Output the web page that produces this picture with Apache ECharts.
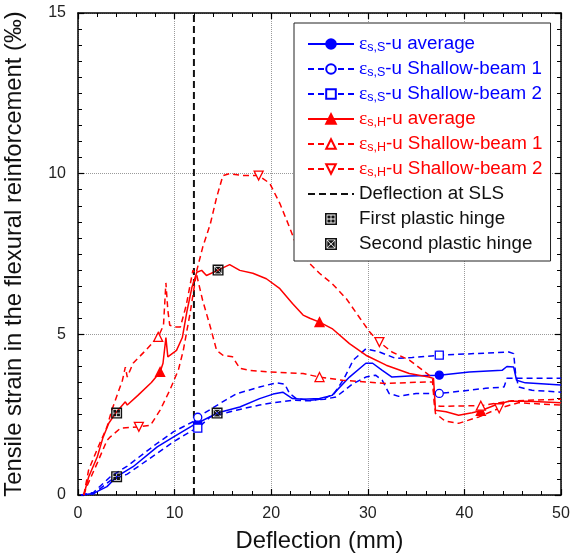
<!DOCTYPE html>
<html>
<head>
<meta charset="utf-8">
<script src="https://cdn.jsdelivr.net/npm/echarts@6/dist/echarts.min.js"></script>
<style>html,body{margin:0;padding:0;background:#fff}#c{width:573px;height:556px}</style>
</head>
<body>
<div id="c"></div>
<script>
// ---- data ----
const xRange = [0, 50, 10];
const yRange = [0, 15, 5];
const slsX = 12;

const blueAvg = [[0.3,0],[1.6,0.05],[3,0.26],[4,0.57],[5.7,0.88],[8.2,1.5],[9.9,1.81],[11.9,2.17],[12.4,2.24],[14.4,2.55],[16.75,2.74],[18.8,3.0],[20.2,3.14],[21.2,3.2],[22.2,3.0],[23.3,2.98],[25,3.0],[26.3,3.1],[28.1,3.67],[29.8,4.1],[30.5,4.1],[31.5,3.88],[32.5,3.67],[34.3,3.7],[37.4,3.73],[40.5,3.83],[43.9,3.88],[44.4,4.0],[45.1,3.98],[45.4,3.57],[46.3,3.49],[50,3.42]];
const blueAvgMarks = [12.4, 37.4];

const blueSB1 = [[0.3,0],[1.6,0.08],[3.35,0.57],[5.1,0.9],[8.2,1.61],[9.9,1.97],[11.9,2.28],[12.4,2.42],[14.7,2.85],[16.4,3.15],[18.8,3.36],[20.5,3.49],[21.4,3.45],[21.9,3.16],[22.6,3.0],[24,2.95],[25.5,2.98],[26.7,3.05],[28.4,3.45],[29.8,3.67],[30.8,3.73],[31.5,3.57],[32.2,3.16],[33.2,3.07],[35,3.16],[37.4,3.16],[38.7,3.2],[42.2,3.32],[44.1,3.36],[44.4,3.63],[45.6,3.63],[50,3.63]];
const blueSB1Marks = [12.4, 37.4];

const blueSB2 = [[0.3,0],[1.6,0.03],[3.35,0.45],[5.1,0.65],[8.2,1.3],[9.9,1.66],[11.9,2.02],[12.4,2.08],[13.7,2.43],[16.4,2.64],[18.8,2.8],[20.2,2.87],[22.2,2.95],[24,2.93],[25.5,3.0],[26.5,3.15],[27.5,3.6],[28.5,4.2],[29.8,4.55],[31.2,4.45],[32.9,4.25],[34.6,4.28],[37.4,4.35],[44.6,4.45],[45.1,4.4],[45.3,3.78],[45.6,3.36],[47,3.26],[50,3.2]];
const blueSB2Marks = [12.4, 37.4];

const redAvg = [[0.6,0],[1.1,0.56],[2.0,1.19],[2.6,1.8],[3.2,2.24],[3.9,2.55],[4.9,2.9],[5.1,2.8],[6.2,3.1],[7.6,3.5],[8.5,3.83],[8.8,4.1],[9.1,4.9],[9.3,4.3],[10.2,4.5],[10.8,4.9],[11.3,5.75],[11.8,6.47],[12.3,6.93],[12.8,6.99],[13.3,6.83],[14.5,7.0],[15.7,7.17],[16.75,6.99],[18.1,6.9],[19.5,6.73],[20.9,6.42],[22.2,5.96],[23.3,5.6],[24,5.5],[25,5.38],[26.3,5.18],[28.1,4.71],[29.8,4.35],[31.9,4.04],[34.3,3.78],[36.3,3.67],[36.8,3.63],[36.9,3.17],[37.0,2.64],[38.1,2.59],[39.4,2.48],[40.8,2.56],[41.7,2.62],[43.2,2.8],[44.6,2.92],[46.6,2.92],[50,2.87]];
const redAvgMarks = [8.5, 25, 41.7];

const redSB1 = [[0.6,0],[1.1,0.78],[2.1,1.5],[3,2.12],[3.5,2.64],[4.6,3.57],[4.9,3.98],[5.1,3.67],[5.7,4.1],[7.0,4.5],[8.3,4.92],[8.85,5.28],[9.1,6.6],[9.3,5.75],[9.5,5.28],[10.05,5.23],[10.6,5.23],[11.2,5.9],[11.9,7.0],[12.3,6.83],[12.9,6.06],[13.7,5.23],[14.35,4.5],[15,4.35],[16,4.3],[16.75,3.94],[17.8,3.88],[19.8,3.83],[23.3,3.78],[25,3.67],[27.4,3.57],[29.8,3.52],[31.9,3.47],[34.3,3.5],[36.7,3.52],[36.9,2.8],[37.5,2.76],[41.7,2.78],[44.9,2.93],[50,2.98]];
const redSB1Marks = [8.3, 25, 41.7];

const redSB2 = [[0.6,0],[0.9,0.26],[2,1.0],[3,1.7],[3.35,1.81],[4.4,2.08],[6.3,2.12],[7.5,2.17],[8.5,2.64],[9.5,3.26],[10.4,3.9],[10.9,4.5],[11.6,5.65],[12.3,6.99],[12.9,7.7],[13.7,8.44],[14.35,9.26],[15,9.94],[15.7,10.0],[17.1,9.94],[18.7,9.94],[19.85,9.7],[20.9,9.07],[21.9,8.33],[22.7,7.7],[24,7.2],[25,6.9],[26.3,6.58],[27.8,6.1],[29.1,5.54],[30.2,5.07],[31.2,4.76],[32.5,4.45],[34.3,4.2],[35.6,3.9],[36.7,3.65],[37,2.54],[38,2.3],[39.4,2.23],[41.5,2.43],[43.6,2.7],[45.6,2.87],[50,2.8]];
const redSB2Marks = [6.3, 18.7, 31.2, 43.6];

const hinge1 = [[4,2.55],[4,0.57]];
const hinge2 = [[14.5,7.0],[14.4,2.55]];

const names = ['εs,S-u average','εs,S-u Shallow-beam 1','εs,S-u Shallow-beam 2','εs,H-u average','εs,H-u Shallow-beam 1','εs,H-u Shallow-beam 2','Deflection at SLS','First plastic hinge','Second plastic hinge'];

// ---- styles ----
const BLUE = '#0000ff', RED = '#ff0000';
const DASH = [6, 4];
const downTri = 'path://M0,0L10,0L5,8.66Z';
const hinge1Sym = 'path://M0,0H10V10H0Z M1.3,1.3V8.7H8.7V1.3Z M2.0,2.0H4.65V4.65H2.0Z M5.35,2.0H8.0V4.65H5.35Z M2.0,5.35H4.65V8.0H2.0Z M5.35,5.35H8.0V8.0H5.35Z';
const hinge2Sym = 'path://M0,0H10V10H0Z M1.3,1.3V8.7H8.7V1.3Z M2.2,1.9H7.8L5,4.5Z M8.1,2.2V7.8L5.5,5Z M7.8,8.1H2.2L5,5.5Z M1.9,7.8V2.2L4.5,5Z';

function build(pts, marks) {
  return pts.map(p => marks.indexOf(p[0]) >= 0 ? {value: p} : {value: p, symbol: 'none'});
}
function lineSeries(name, pts, marks, color, dashed, symbol, filled) {
  return {
    name: name, type: 'line', data: build(pts, marks),
    symbol: symbol, symbolSize: symbol === 'triangle' || symbol === downTri ? 9 : 8,
    showSymbol: true, showAllSymbol: true,
    lineStyle: {color: color, width: 1.5, type: dashed ? DASH : 'solid'},
    itemStyle: {color: filled ? color : '#fff', borderColor: color, borderWidth: 1.3},
    z: 3
  };
}

const chart = echarts.init(document.getElementById('c'), null, {renderer: 'canvas'});
const axisCommon = {
  type: 'value',
  axisLine: {show: true, onZero: false, lineStyle: {color: '#000', width: 1.5}},
  axisTick: {show: true, inside: true, length: 6, lineStyle: {color: '#000', width: 1.2}},
  minorTick: {show: true, length: 4, lineStyle: {color: '#000', width: 1}},
};
chart.setOption({
  animation: false,
  backgroundColor: '#fff',
  grid: {left: 78, right: 12, top: 13, bottom: 61, containLabel: false, outerBoundsMode: 'none'},
  xAxis: [
    Object.assign({}, axisCommon, {
      min: xRange[0], max: xRange[1], interval: xRange[2], position: 'bottom',
      minorTick: Object.assign({}, axisCommon.minorTick, {splitNumber: 5}),
      axisLabel: {color: '#222', fontSize: 16, fontFamily: 'Liberation Sans', margin: 11},
      splitLine: {show: true, lineStyle: {color: '#9a9a9a', type: 'dotted', width: 1}},
      name: 'Deflection (mm)', nameLocation: 'middle', nameGap: 34,
      nameTextStyle: {color: '#111', fontSize: 23.8, fontFamily: 'Liberation Sans'}
    }),
    Object.assign({}, axisCommon, {
      min: xRange[0], max: xRange[1], interval: xRange[2], position: 'top',
      minorTick: Object.assign({}, axisCommon.minorTick, {splitNumber: 5}),
      axisLabel: {show: false}, splitLine: {show: false}
    })
  ],
  yAxis: [
    Object.assign({}, axisCommon, {
      min: yRange[0], max: yRange[1], interval: yRange[2], position: 'left',
      minorTick: Object.assign({}, axisCommon.minorTick, {splitNumber: 10}),
      axisLabel: {color: '#222', fontSize: 16, fontFamily: 'Liberation Sans', margin: 12},
      splitLine: {show: true, lineStyle: {color: '#9a9a9a', type: 'dotted', width: 1}},
      name: 'Tensile strain in the flexural reinforcement (‰)', nameLocation: 'middle', nameGap: 52,
      nameTextStyle: {color: '#111', fontSize: 23.8, fontFamily: 'Liberation Sans'}
    }),
    Object.assign({}, axisCommon, {
      min: yRange[0], max: yRange[1], interval: yRange[2], position: 'right',
      minorTick: Object.assign({}, axisCommon.minorTick, {splitNumber: 10}),
      axisLabel: {show: false}, splitLine: {show: false}
    })
  ],
  legend: {
    orient: 'vertical', left: 294, top: 23,
    backgroundColor: '#fff', borderColor: '#222', borderWidth: 1,
    padding: [11, 8, 7, 13], itemWidth: 46, itemHeight: 12, itemGap: 5,
    formatter: function (n) { return n.replace(/^ε(s,[SH])/, '{g|ε}{sub|$1}'); },
    textStyle: {fontSize: 18.8, fontFamily: 'Liberation Sans', lineHeight: 20,
      rich: {g: {fontSize: 19.5, fontFamily: 'Liberation Serif', lineHeight: 20},
             sub: {fontSize: 12.5, fontFamily: 'Liberation Sans', verticalAlign: 'bottom', lineHeight: 12}}},
    data: names.map((n, i) => {
      const d = {name: n, textStyle: {color: i < 3 ? BLUE : (i < 6 ? RED : '#111')}};
      if (i === 6) d.itemStyle = {color: 'rgba(0,0,0,0)', borderColor: 'rgba(0,0,0,0)', borderWidth: 0};
      return d;
    })
  },
  series: [
    lineSeries(names[0], blueAvg, blueAvgMarks, BLUE, false, 'circle', true),
    lineSeries(names[1], blueSB1, blueSB1Marks, BLUE, true, 'circle', false),
    lineSeries(names[2], blueSB2, blueSB2Marks, BLUE, true, 'rect', false),
    lineSeries(names[3], redAvg, redAvgMarks, RED, false, 'triangle', true),
    lineSeries(names[4], redSB1, redSB1Marks, RED, true, 'triangle', false),
    lineSeries(names[5], redSB2, redSB2Marks, RED, true, downTri, false),
    {name: names[6], type: 'line', data: [[slsX, yRange[0]], [slsX, yRange[1]]], symbol: 'none',
     lineStyle: {color: '#111', width: 2, type: [7, 4]}, itemStyle: {color: '#111'}, z: 2},
    {name: names[7], type: 'scatter', data: hinge1, symbol: hinge1Sym, symbolSize: 11,
     itemStyle: {color: '#111', opacity: 1}, z: 5},
    {name: names[8], type: 'scatter', data: hinge2, symbol: hinge2Sym, symbolSize: 11,
     itemStyle: {color: '#111', opacity: 1}, z: 5}
  ]
});
</script>
</body>
</html>
